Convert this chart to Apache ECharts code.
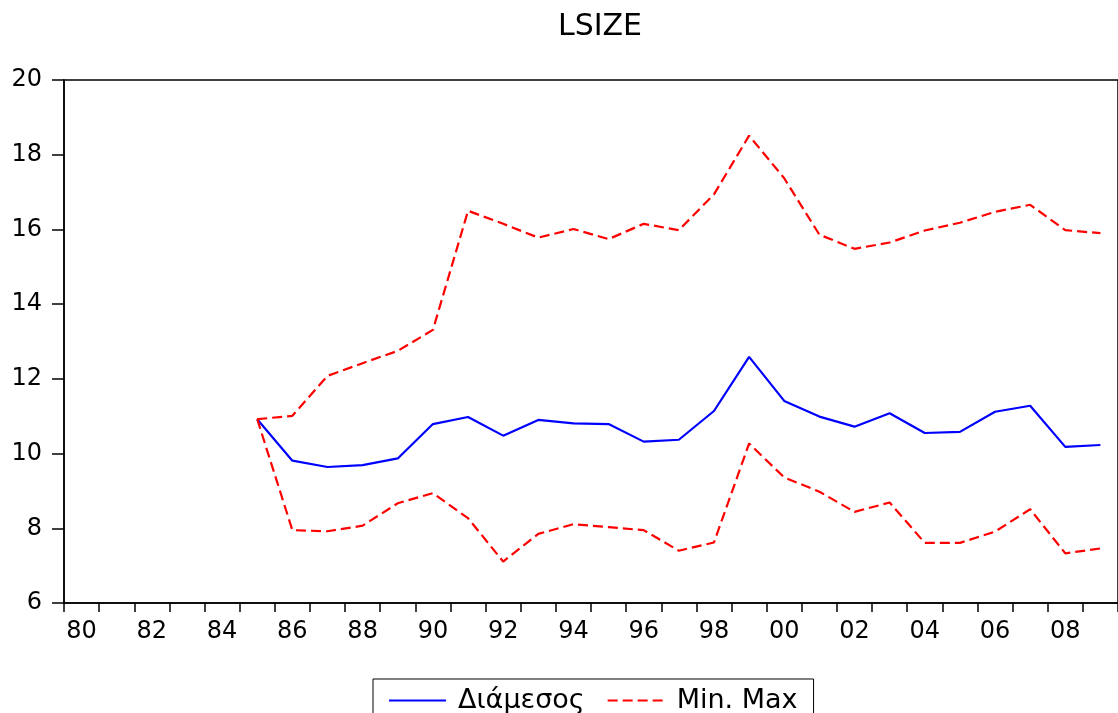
<!DOCTYPE html>
<html>
<head>
<meta charset="utf-8">
<title>LSIZE</title>
<script src="https://cdn.jsdelivr.net/npm/echarts@6/dist/echarts.min.js"></script>
<style>
  html, body { margin: 0; padding: 0; background: #ffffff; }
  #chart { width: 1118px; height: 713px; }
</style>
</head>
<body>
<div id="chart"></div>
<script>
// Annual observations, 1980-2009 (no data before 1985)
const years = ['80','81','82','83','84','85','86','87','88','89',
               '90','91','92','93','94','95','96','97','98','99',
               '00','01','02','03','04','05','06','07','08','09'];

const median = [null, null, null, null, null,
  10.92, 9.81, 9.64, 9.69, 9.87,
  10.79, 10.98, 10.48, 10.90, 10.81, 10.79, 10.32, 10.37, 11.14, 12.59,
  11.41, 10.99, 10.72, 11.08, 10.55, 10.58, 11.12, 11.28, 10.18, 10.23];

const maxValues = [null, null, null, null, null,
  10.92, 11.01, 12.08, 12.42, 12.75,
  13.31, 16.50, 16.15, 15.78, 16.01, 15.74, 16.15, 15.98, 16.94, 18.51,
  17.37, 15.86, 15.48, 15.65, 15.97, 16.18, 16.47, 16.66, 15.98, 15.90];

const minValues = [null, null, null, null, null,
  10.92, 7.95, 7.92, 8.07, 8.67,
  8.94, 8.27, 7.11, 7.85, 8.11, 8.03, 7.95, 7.40, 7.62, 10.27,
  9.36, 8.98, 8.44, 8.69, 7.61, 7.61, 7.91, 8.51, 7.33, 7.46];

const yTicks = { min: 6, max: 20, interval: 2 };

const FONT = 'DejaVu Sans';
const chart = echarts.init(document.getElementById('chart'), null, { renderer: 'canvas' });

const redLine = { color: '#ff0000', width: 2.2, type: [10, 5] };

chart.setOption({
  backgroundColor: '#ffffff',
  animation: false,
  title: {
    text: 'LSIZE',
    left: 595,
    textAlign: 'center',
    top: 7,
    textStyle: { fontFamily: FONT, fontSize: 30, fontWeight: 'normal', color: '#000000' }
  },
  legend: {
    data: ['Διάμεσος', 'Min. Max'],
    left: 373,
    top: 679,
    orient: 'horizontal',
    padding: [8, 16, 20, 15],
    borderColor: '#000000',
    borderWidth: 1,
    itemWidth: 57,
    itemHeight: 14,
    itemGap: 22,
    // plain line keys, no marker dot
    itemStyle: { opacity: 0 },
    textStyle: { fontFamily: FONT, fontSize: 27, color: '#000000', padding: [0, 0, 0, 7] }
  },
  grid: {
    left: 64,
    top: 80,
    right: -8,
    bottom: 110,
    show: true,
    borderColor: '#000000',
    borderWidth: 1.5,
    containLabel: false
  },
  xAxis: {
    type: 'category',
    data: years,
    boundaryGap: true,
    axisLine: { show: true, lineStyle: { color: '#000000', width: 1.5 } },
    axisTick: { show: true, interval: 0, length: 9, lineStyle: { color: '#000000', width: 1.5 } },
    axisLabel: { interval: 1, margin: 17, fontFamily: FONT, fontSize: 24, color: '#000000' },
    splitLine: { show: false }
  },
  yAxis: {
    type: 'value',
    min: yTicks.min,
    max: yTicks.max,
    interval: yTicks.interval,
    axisLine: { show: true, lineStyle: { color: '#000000', width: 1.5 } },
    axisTick: { show: true, length: 12, lineStyle: { color: '#000000', width: 1.5 } },
    axisLabel: { margin: 22, fontFamily: FONT, fontSize: 24, color: '#000000' },
    splitLine: { show: false }
  },
  series: [
    {
      name: 'Διάμεσος',
      type: 'line',
      data: median,
      symbol: 'none',
      color: '#0000ff',
      lineStyle: { color: '#0000ff', width: 2.2 }
    },
    {
      name: 'Min. Max',
      type: 'line',
      data: maxValues,
      symbol: 'none',
      color: '#ff0000',
      lineStyle: redLine
    },
    {
      name: 'Min. Max',
      type: 'line',
      data: minValues,
      symbol: 'none',
      color: '#ff0000',
      lineStyle: redLine
    }
  ]
});
</script>
</body>
</html>
